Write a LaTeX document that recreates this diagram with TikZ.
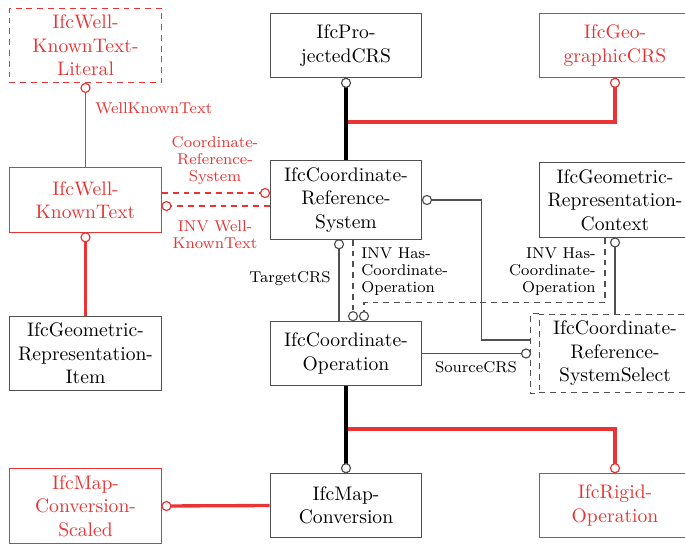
\documentclass[tikz,border=0pt]{standalone}
\definecolor{ifcred}{RGB}{232,52,52}
\definecolor{ifcgray}{RGB}{80,80,80}
\tikzset{
  entity/.style={draw=ifcgray, line width=0.5pt, minimum width=77.5pt, minimum height=33pt,
    inner xsep=2pt, inner ysep=3.5pt, align=center},
  redentity/.style={entity, draw=ifcred, text=ifcred},
  dashes/.style={dash pattern=on 3pt off 2.5pt},
  rel/.style={draw=ifcgray, line width=0.6pt},
  redrel/.style={draw=ifcred, line width=0.6pt},
  thickrel/.style={draw=black, line width=1.7pt},
  redthickrel/.style={draw=ifcred, line width=1.7pt},
  ring/.style={draw=ifcgray, fill=white, line width=0.6pt},
  redring/.style={ring, draw=ifcred},
  lbl/.style={font=\fontsize{8}{8.7}\selectfont, inner sep=1pt},
}
\begin{document}
\begin{tikzpicture}[x=0.51pt, y=-0.51pt]
    \useasboundingbox (0,0) rectangle (685,545);
    \node[redentity, dashes] (wktlit) at (85.5,45.5) {IfcWell-\\KnownText-\\Literal};
    \node[redentity] (wkt) at (85.5,200) {IfcWell-\\KnownText};
    \node[entity] (gri) at (85.5,353.5) {IfcGeometric-\\Representation-\\Item};
    \node[redentity] (mcs) at (85.5,506) {IfcMap-\\Conversion-\\Scaled};
    \node[entity] (proj) at (346,45.5) {IfcPro-\\jectedCRS};
    \node[redentity] (geo) at (615,45.5) {IfcGeo-\\graphicCRS};
    \node[entity] (crs) at (346,200) {IfcCoordinate-\\Reference-\\System};
    \node[entity] (grc) at (615,200) {IfcGeometric-\\Representation-\\Context};
    \node[entity] (cop) at (346,353.5) {IfcCoordinate-\\Operation};
    \node[entity, dashes] (sel) at (615,353.5) {IfcCoordinate-\\Reference-\\SystemSelect};
    \node[entity] (mc) at (346,505.5) {IfcMap-\\Conversion};
    \node[redentity] (rig) at (615,505.5) {IfcRigid-\\Operation};
    \draw[rel, line width=0.5pt, dashes] (sel.north west) -- ++(-8,0) |- (sel.south west);
    \coordinate (selw) at ([shift={(-8,0)}]sel.west);
    \coordinate (projmid) at (346,122);
    \coordinate (copmid) at (346,429);

    \draw[redrel] (wktlit.south) -- (wkt.north);
    \draw[redrel, dashes] ([shift={(0,-7)}]wkt.east) -- ([shift={(0,-7)}]crs.west);
    \draw[redrel, dashes] ([shift={(0,6)}]crs.west) -- ([shift={(0,6)}]wkt.east);
    \draw[redthickrel] (wkt.south) -- (gri.north);
    \draw[redthickrel] (projmid) -| (geo.south);
    \draw[thickrel] (proj.south) -- (crs.north);
    \draw[rel] (crs.east) -- ++(59,0) |- ([shift={(0,-13.5)}]selw);
    \draw[rel] ([shift={(-7,0)}]crs.south) -- ([shift={(-7,0)}]cop.north);
    \draw[rel, dashes] ([shift={(7,0)}]crs.south) -- ([shift={(7,0)}]cop.north);
    \draw[rel, dashes] ([shift={(-10,0)}]grc.south) |- ([shift={(18,-18)}]cop.north) -- ([shift={(18,0)}]cop.north);
    \draw[rel] (grc.south) -- (sel.north);
    \draw[rel] (cop.east) -- (selw);
    \draw[redthickrel] (copmid) -| (rig.north);
    \draw[thickrel] (cop.south) -- (mc.north);
    \draw[redthickrel] (mcs.east) -- (mc.west);

    \draw[redring] ([shift={(0,4.5)}]wktlit.south) circle (2.3pt);
    \draw[redring] ([shift={(-4.5,-7)}]crs.west) circle (2.3pt);
    \draw[redring] ([shift={(4.5,6)}]wkt.east) circle (2.3pt);
    \draw[redring] ([shift={(0,4.5)}]wkt.south) circle (2.3pt);
    \draw[ring] ([shift={(0,4.5)}]proj.south) circle (2.3pt);
    \draw[redring] ([shift={(0,4.5)}]geo.south) circle (2.3pt);
    \draw[ring] ([shift={(4.5,0)}]crs.east) circle (2.3pt);
    \draw[ring] ([shift={(-7,4.5)}]crs.south) circle (2.3pt);
    \draw[ring] ([shift={(7,-4.5)}]cop.north) circle (2.3pt);
    \draw[ring] ([shift={(18,-4.5)}]cop.north) circle (2.3pt);
    \draw[ring] ([shift={(0,4.5)}]grc.south) circle (2.3pt);
    \draw[ring] ([shift={(-4.5,0)}]selw) circle (2.3pt);
    \draw[ring] ([shift={(0,-4.5)}]mc.north) circle (2.3pt);
    \draw[redring] ([shift={(0,-4.5)}]rig.north) circle (2.3pt);
    \draw[redring] ([shift={(4.5,0)}]mcs.east) circle (2.3pt);

    \node[lbl, text=ifcred, anchor=west] (wktlbl) at (93,108) {WellKnownText};
    \node[lbl, text=ifcred, align=center] (crslbl) at (215,161) {Coordinate-\\Reference-\\System};
    \node[lbl, text=ifcred, align=center] (wktinv) at (215,234.5) {INV Well-\\KnownText};
    \node[lbl, anchor=east] (tgtlbl) at (333,279) {TargetCRS};
    \node[lbl, align=left, anchor=west] (hasop1) at (359,272) {INV Has-\\Coordinate-\\Operation};
    \node[lbl, align=right, anchor=east] (hasop2) at (598,272) {INV Has-\\Coordinate-\\Operation};
    \node[lbl] (srclbl) at (476,367) {SourceCRS};
\end{tikzpicture}
\end{document}
